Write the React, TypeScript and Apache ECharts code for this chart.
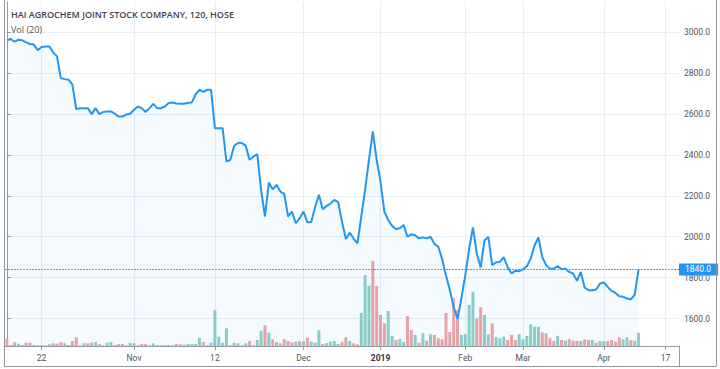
import React, { useEffect, useRef } from 'react';
import * as echarts from 'echarts';

const chartTitle = 'HAI AGROCHEM JOINT STOCK COMPANY, 120, HOSE';
const volumeTitle = 'Vol (20)';
const lastPrice = 1840;
const totalSlots = 175;
const priceTicks = [1600, 1800, 2000, 2200, 2400, 2600, 2800, 3000];
const timeTickSlots = [9, 33, 54, 77, 97, 119, 134, 155, 171];
const timeTickLabels = ['22', 'Nov', '12', 'Dec', '2019', 'Feb', 'Mar', 'Apr', '17'];

const price = [
  2961, 2967, 2954, 2964, 2961, 2951, 2943, 2940, 2912, 2928,
  2931, 2931, 2902, 2882, 2776, 2771, 2768, 2744, 2625, 2629,
  2629, 2629, 2600, 2629, 2600, 2610, 2613, 2613, 2602, 2588,
  2588, 2598, 2602, 2621, 2637, 2629, 2610, 2629, 2650, 2629,
  2629, 2637, 2654, 2657, 2652, 2651, 2651, 2655, 2657, 2696,
  2719, 2709, 2719, 2719, 2531, 2531, 2531, 2368, 2376, 2445,
  2458, 2458, 2446, 2376, 2393, 2404, 2229, 2099, 2265, 2232,
  2254, 2221, 2210, 2099, 2123, 2066, 2091, 2123, 2071, 2071,
  2144, 2205, 2135, 2151, 2162, 2180, 2169, 2074, 1989, 2020,
  1991, 1968, 2099, 2229, 2376, 2515, 2376, 2270, 2123, 2082,
  2053, 2038, 2041, 2058, 2000, 2012, 2007, 1992, 1997, 1992,
  2000, 1965, 1952, 1890, 1810, 1740, 1655, 1598, 1700, 1810,
  1940, 2045, 1918, 1850, 1983, 1999, 1861, 1875, 1877, 1900,
  1852, 1821, 1833, 1831, 1841, 1856, 1893, 1958, 1996, 1901,
  1861, 1844, 1844, 1856, 1841, 1844, 1828, 1820, 1784, 1828,
  1752, 1738, 1738, 1742, 1771, 1776, 1755, 1735, 1725, 1709,
  1706, 1698, 1694, 1717, 1840,
];

const volume = [
  7.7, 1, 3.7, 2.3, 1, 3.3, 3.3, 1, 0.7, 0.7,
  0.7, 1.7, 2.7, 2.3, 4, 2.7, 1, 5, 8.7, 0.7,
  2.7, 2.7, 3.3, 4, 2, 0.7, 3.3, 4, 1, 2,
  2, 0.7, 3, 2.7, 0.7, 2, 2, 0.7, 2.7, 1,
  0.7, 1, 1, 0.7, 2, 2, 1.3, 2, 2, 2,
  8, 4, 0.7, 3.3, 35.7, 9.3, 3.3, 17.7, 0.7, 3.3,
  2.7, 0.7, 2.7, 5, 0.7, 6, 15.3, 20.7, 13.3, 6.7,
  4, 2.7, 6.7, 5, 3.7, 4.3, 4.7, 4.7, 8.3, 4.3,
  3.3, 15.7, 2, 3, 4.5, 5, 2, 4.3, 8.7, 5,
  2.7, 1.7, 33, 71, 60.3, 85, 60, 31, 22.7, 35,
  10, 6, 7, 4, 30, 16, 11, 3.3, 12.7, 5.3,
  11.7, 11, 7.7, 6.7, 33, 14, 47.7, 36, 11, 12,
  41, 54.3, 27.7, 38.7, 31, 11.7, 22.7, 8.7, 7.7, 9.3,
  6, 11, 6, 11.7, 6.7, 10, 21.7, 19.3, 19.3, 13.7,
  12.7, 7.7, 5, 10, 6, 5.3, 6.7, 5.3, 5.3, 5,
  6.7, 6, 6, 3.3, 5, 5, 5, 6, 4.3, 8.7,
  6.7, 8.7, 6, 5.3, 13.3,
];

// 1 = up bar (teal), 0 = down bar (red)
const volumeUp = [
  0, 1, 0, 1, 0, 0, 0, 1, 0, 0,
  1, 1, 0, 0, 0, 1, 0, 0, 0, 1,
  1, 0, 0, 1, 0, 1, 1, 1, 0, 0,
  0, 1, 1, 1, 0, 0, 0, 1, 1, 0,
  0, 0, 0, 1, 0, 1, 0, 1, 1, 1,
  1, 0, 1, 1, 1, 1, 1, 1, 0, 1,
  1, 1, 1, 0, 1, 1, 1, 0, 1, 0,
  1, 0, 0, 0, 0, 1, 0, 1, 0, 1,
  1, 1, 0, 1, 1, 1, 1, 0, 0, 1,
  0, 0, 1, 1, 1, 0, 0, 0, 0, 1,
  1, 0, 1, 1, 0, 0, 1, 0, 1, 0,
  1, 0, 0, 0, 0, 0, 0, 0, 1, 1,
  1, 1, 0, 0, 1, 1, 0, 1, 1, 1,
  0, 0, 0, 1, 1, 1, 1, 1, 1, 0,
  0, 0, 0, 1, 0, 1, 0, 0, 0, 1,
  0, 0, 1, 0, 1, 1, 0, 0, 0, 0,
  1, 1, 0, 1, 1,
];

export default function App() {
  const ref = useRef<HTMLDivElement>(null);

  useEffect(() => {
    if (!ref.current) return;
    const chart = echarts.init(ref.current, undefined, { renderer: 'svg' });
    const categories = Array.from({ length: totalSlots }, (_, i) => String(i));
    const axisColor = '#9598a1';
    const gridColor = '#e6edf4';
    const labelColor = '#50535e';
    const axisFont = 'Roboto';
    const lastLineStyle = { type: [2, 1], color: '#4aa3f2', width: 1, opacity: 1 };

    chart.setOption({
      animation: false,
      backgroundColor: '#ffffff',
      grid: { left: 5, right: 41, top: 2, bottom: 23, containLabel: false },
      xAxis: [
        {
          type: 'category',
          data: categories,
          boundaryGap: true,
          position: 'top',
          show: false,
        },
        {
          type: 'value',
          position: 'bottom',
          min: -0.5,
          max: totalSlots - 0.5,
          axisLine: { show: true, lineStyle: { color: axisColor, width: 1 } },
          axisTick: {
            show: true,
            customValues: timeTickSlots,
            length: 4,
            lineStyle: { color: axisColor },
          },
          axisLabel: {
            customValues: timeTickSlots,
            formatter: (v: number) => {
              const k = timeTickSlots.indexOf(Math.round(v));
              if (k < 0) return '';
              const t = timeTickLabels[k];
              return /^\d{4}$/.test(t) ? `{y|${t}}` : t;
            },
            fontSize: 8.5,
            fontFamily: axisFont,
            color: labelColor,
            margin: 7,
            rich: {
              y: { fontSize: 8.5, fontFamily: axisFont, fontWeight: 'bold', color: '#2f3240' },
            },
          },
          splitLine: { show: true, lineStyle: { color: gridColor, width: 1 } },
        },
      ],
      yAxis: [
        {
          type: 'value',
          position: 'right',
          min: 1465.5,
          max: 3148.3,
          axisLine: { show: true, lineStyle: { color: axisColor, width: 1 } },
          axisTick: {
            show: true,
            customValues: priceTicks,
            length: 4,
            lineStyle: { color: axisColor },
          },
          axisLabel: {
            customValues: priceTicks,
            formatter: (v: number) => v.toFixed(1),
            fontSize: 8.5,
            fontFamily: axisFont,
            color: labelColor,
            margin: 5,
          },
          splitLine: { show: true, lineStyle: { color: gridColor, width: 1 } },
        },
        {
          type: 'value',
          position: 'left',
          min: 0,
          max: 344,
          show: false,
          splitLine: { show: false },
        },
      ],
      series: [
        {
          type: 'bar',
          xAxisIndex: 0,
          yAxisIndex: 1,
          barWidth: 3,
          z: 1,
          data: volume.map((v, i) => ({
            value: v,
            itemStyle: { color: volumeUp[i] ? '#8fd0ca' : '#f0a4a4' },
          })),
        },
        {
          type: 'line',
          xAxisIndex: 0,
          yAxisIndex: 0,
          data: price,
          symbol: 'none',
          color: '#2196f3',
          z: 3,
          lineStyle: { color: '#2196f3', width: 2 },
          areaStyle: { color: 'rgba(33,150,243,0.06)', origin: 'start' },
          markLine: {
            silent: true,
            symbol: ['none', 'none'],
            lineStyle: lastLineStyle,
            label: {
              show: true,
              position: 'end',
              distance: 0,
              formatter: () => lastPrice.toFixed(1),
              backgroundColor: '#2196f3',
              color: '#ffffff',
              opacity: 1,
              fontSize: 8.5,
              fontFamily: axisFont,
              padding: [2, 7, 1, 6],
            },
            data: [{ yAxis: lastPrice, lineStyle: lastLineStyle }],
          },
        },
      ],
      graphic: [
        {
          type: 'text',
          left: 11,
          top: 10,
          z: 100,
          style: {
            text: chartTitle,
            font: '600 9px "Open Sans"',
            fill: '#3d4250',
          },
        },
        {
          type: 'text',
          left: 11,
          top: 25,
          z: 100,
          style: {
            text: volumeTitle,
            font: '9px "Open Sans"',
            fill: '#50535e',
          },
        },
        { type: 'line', z: 100, shape: { x1: 4.5, y1: 0, x2: 4.5, y2: 366.5 }, style: { stroke: axisColor, lineWidth: 1 } },
        { type: 'line', z: 100, shape: { x1: 4.5, y1: 366.5, x2: 716.5, y2: 366.5 }, style: { stroke: axisColor, lineWidth: 1 } },
        { type: 'line', z: 100, shape: { x1: 716.5, y1: 0, x2: 716.5, y2: 366.5 }, style: { stroke: axisColor, lineWidth: 1 } },
        { type: 'line', z: 100, shape: { x1: 679.5, y1: 346, x2: 679.5, y2: 366.5 }, style: { stroke: axisColor, lineWidth: 1 } },
      ],
    });

    return () => chart.dispose();
  }, []);

  return (
    <div
      ref={ref}
      style={{ position: 'fixed', left: 0, top: 0, width: 720, height: 369, background: '#fff' }}
    />
  );
}
